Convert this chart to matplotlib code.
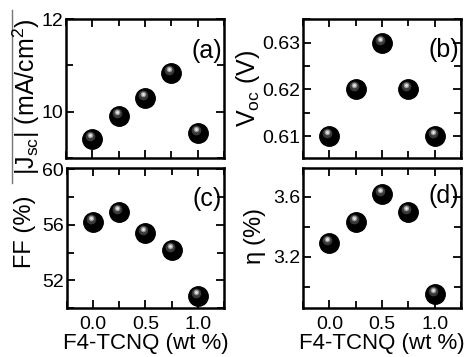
import matplotlib.pyplot as plt
import matplotlib.transforms as mtransforms
from matplotlib.lines import Line2D
from matplotlib.ticker import MultipleLocator

plt.rcParams['font.family'] = ['Liberation Sans', 'DejaVu Sans']
plt.rcParams['mathtext.fontset'] = 'custom'
plt.rcParams['mathtext.rm'] = 'Liberation Sans'
plt.rcParams['mathtext.it'] = 'Liberation Sans'

conc = [0.0, 0.25, 0.5, 0.75, 1.0]
jsc = [9.42, 9.9, 10.3, 10.84, 9.53]
voc = [0.61, 0.62, 0.63, 0.62, 0.61]
ff = [56.2, 56.9, 55.4, 54.2, 50.9]
eta = [3.29, 3.43, 3.62, 3.50, 2.95]

W, H = 468, 357
fig = plt.figure(figsize=(W / 100, H / 100), dpi=100)


def rect(x0, y0, x1, y1):
    return [x0 / W, 1 - y1 / H, (x1 - x0) / W, (y1 - y0) / H]


def ylab(text, x, y, size):
    # label centre given in pixels from the top-left corner
    fig.text(x / W, 1 - y / H, text, rotation=90, ha='center', va='center',
             fontsize=size)


def spheres(ax, x, y):
    ax.plot(x, y, 'o', ms=14, color='black', mec='black', zorder=3)
    t1 = mtransforms.offset_copy(ax.transData, fig=fig, x=-2, y=3, units='dots')
    ax.plot(x, y, 'o', ms=7, color='#3a3a3a', mew=0, transform=t1, zorder=4)
    t2 = mtransforms.offset_copy(ax.transData, fig=fig, x=-2, y=4, units='dots')
    ax.plot(x, y, 'o', ms=4, color='#9a9a9a', mew=0, transform=t2, zorder=5)
    ax.plot(x, y, 'o', ms=2, color='#e8e8e8', mew=0, transform=t2, zorder=6)


def style(ax, major, minor, show_x):
    ax.set_xlim(-0.25, 1.25)
    ax.xaxis.set_major_locator(MultipleLocator(0.5))
    ax.xaxis.set_minor_locator(MultipleLocator(0.25))
    ax.yaxis.set_major_locator(MultipleLocator(major))
    ax.yaxis.set_minor_locator(MultipleLocator(minor))
    ax.tick_params(which='both', direction='in', top=True, right=True,
                   width=1.3, labelsize=14, pad=2)
    ax.tick_params(which='major', length=6)
    ax.tick_params(which='minor', length=5)
    if not show_x:
        ax.tick_params(labelbottom=False)
    else:
        ax.tick_params(axis='x', pad=6)
        ax.set_xlabel('F4-TCNQ (wt %)', fontsize=16, labelpad=0)
    for s in ax.spines.values():
        s.set_linewidth(1.8)


def panel_tag(ax, tag, y):
    ax.text(0.985, y, tag, transform=ax.transAxes, ha='right', va='center',
            fontsize=18)


axa = fig.add_axes(rect(66, 19, 224, 158))
spheres(axa, conc, jsc)
axa.set_ylim(9, 12)
style(axa, 2, 1, False)
panel_tag(axa, '(a)', 0.77)

axb = fig.add_axes(rect(303, 19, 461, 158))
spheres(axb, conc, voc)
axb.set_ylim(0.6053, 0.6351)
style(axb, 0.01, 0.005, False)
panel_tag(axb, '(b)', 0.78)

axc = fig.add_axes(rect(67, 168, 224, 308))
spheres(axc, conc, ff)
axc.set_ylim(50, 60.1)
style(axc, 4, 2, True)
panel_tag(axc, '(c)', 0.78)

axd = fig.add_axes(rect(303, 168, 461, 308))
spheres(axd, conc, eta)
axd.set_ylim(2.86, 3.79)
style(axd, 0.4, 0.2, True)
panel_tag(axd, '(d)', 0.8)

ylab(r'|J$_{\rm sc}$| (mA/cm$^2$)', 26, 97, 18)
ylab(r'V$_{\rm oc}$ (V)', 248, 89, 18)
ylab('FF (%)', 25, 232, 17)
ylab(r'$\eta$ (%)', 255, 236, 17)

# thin grey edge line on the left of the original image
fig.add_artist(Line2D([12 / W, 12 / W], [1 - 183 / H, 1 - 10 / H],
                      color='#777777', lw=1))

fig.savefig('out.png', dpi=100)
